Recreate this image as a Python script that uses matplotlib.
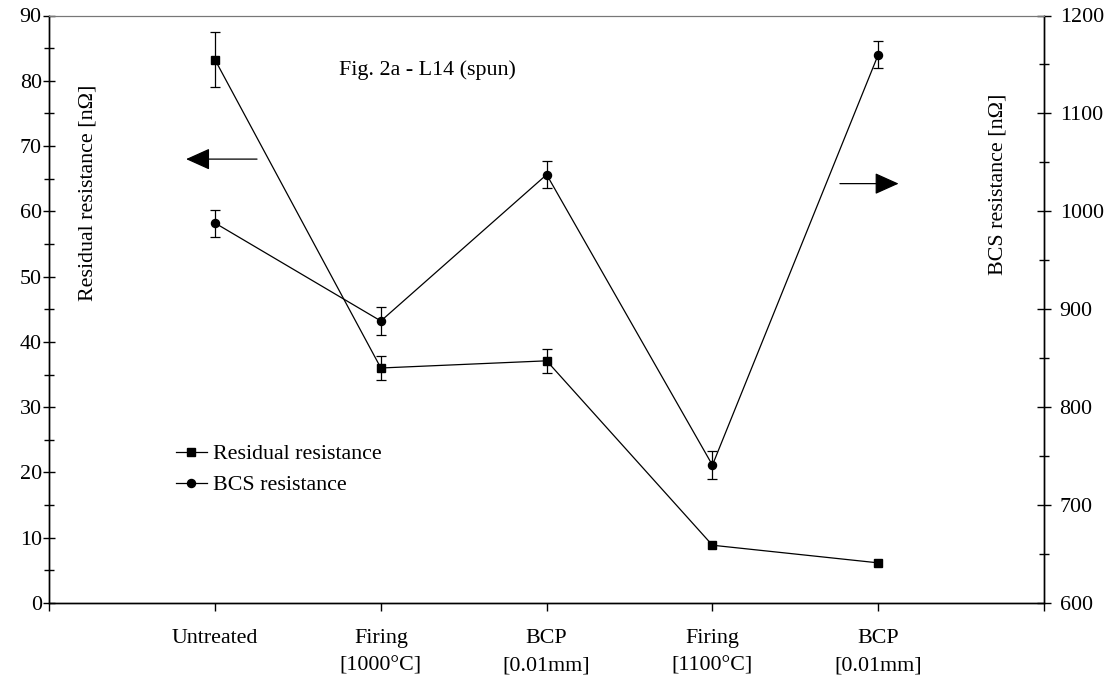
import numpy as np
import matplotlib
matplotlib.use('Agg')
import matplotlib.pyplot as plt
from matplotlib.ticker import MultipleLocator

plt.rcParams['font.family'] = ['Liberation Serif', 'DejaVu Serif']
FS = 15.8

# ---------------------------------------------------------------------------
# Data
# ---------------------------------------------------------------------------
steps = ['Untreated', 'Firing\n[1000°C]', 'BCP\n[0.01mm]',
         'Firing\n[1100°C]', 'BCP\n[0.01mm]']
x = np.arange(1, len(steps) + 1)

residual = [83.2, 36.0, 37.1, 8.85, 6.15]        # nOhm, left axis
residual_err = [4.2, 1.8, 1.8]                    # only first three have bars

bcs = [988.0, 888.0, 1037.5, 740.8, 1160.0]       # nOhm, right axis
bcs_err = [13.8, 14.0, 14.0, 14.0, 14.0]

# ---------------------------------------------------------------------------
fig = plt.figure(figsize=(11.15, 6.8), dpi=100)
ax = fig.add_axes([49.3 / 1115, 1 - 603 / 680, (1044 - 49.3) / 1115, (603 - 15.5) / 680])
ax2 = ax.twinx()

h1, = ax.plot(x, residual, 'k-', lw=0.9, marker='s', ms=6.2,
              label='Residual resistance')
ax.errorbar(x[:len(residual_err)], residual[:len(residual_err)],
            yerr=residual_err, fmt='none', ecolor='k', elinewidth=0.9,
            capsize=3.6, capthick=0.9)

h2, = ax2.plot(x, bcs, 'k-', lw=0.9, marker='o', ms=5.8,
               label='BCS resistance')
ax2.errorbar(x, bcs, yerr=bcs_err, fmt='none', ecolor='k', elinewidth=0.9,
             capsize=3.6, capthick=0.9)

ax.set_xlim(0, 6)
ax.set_ylim(0, 90)
ax2.set_ylim(600, 1200)

ax.set_xticks(np.arange(0, 7))
ax.set_xticklabels([''] + steps + [''], fontsize=FS, linespacing=1.6)
ax.tick_params(axis='x', direction='out', length=6, width=1, pad=13)

ax.yaxis.set_major_locator(MultipleLocator(10))
ax.yaxis.set_minor_locator(MultipleLocator(5))
ax.tick_params(axis='y', which='major', direction='inout', length=9,
               width=1, pad=1, labelsize=FS)
ax.tick_params(axis='y', which='minor', direction='inout', length=7, width=1)

ax2.yaxis.set_major_locator(MultipleLocator(100))
ax2.yaxis.set_minor_locator(MultipleLocator(50))
ax2.tick_params(axis='y', which='major', direction='inout', length=10.5,
                width=1, pad=6, labelsize=FS)
ax2.tick_params(axis='y', which='minor', direction='inout', length=7.7, width=1)

for a in (ax, ax2):
    for side in ('left', 'right', 'bottom'):
        a.spines[side].set_linewidth(1.0)
    a.spines['top'].set_color('#777777')
    a.spines['top'].set_linewidth(0.8)

# axis titles sit high up, inside the frame
fig.text(87.5 / 1115, 1 - 192.5 / 680, 'Residual resistance [nΩ]',
         rotation=90, ha='center', va='center', fontsize=FS)
fig.text(997.5 / 1115, 1 - 184 / 680, 'BCS resistance [nΩ]',
         rotation=90, ha='center', va='center', fontsize=FS)
fig.text(427 / 1115, 1 - 70 / 680, 'Fig. 2a - L14 (spun)',
         ha='center', va='center', fontsize=FS)

# arrows pointing at the relevant axis
arrow = dict(arrowstyle='-|>,head_length=1.0,head_width=0.45',
             color='k', lw=0.9, shrinkA=0, shrinkB=0, mutation_scale=15)
ax.annotate('', xy=(0.825, 68.0), xytext=(1.253, 68.0), arrowprops=arrow)
ax2.annotate('', xy=(5.123, 1028.3), xytext=(4.769, 1028.3), arrowprops=arrow)

fig.legend(handles=[h1, h2], loc='upper left',
           bbox_to_anchor=(176 / 1115, 1 - 444 / 680),
           frameon=False, fontsize=FS, handlelength=1.4, handletextpad=0.3,
           borderpad=0, borderaxespad=0, labelspacing=0.48)

fig.savefig('out.png', dpi=100)
